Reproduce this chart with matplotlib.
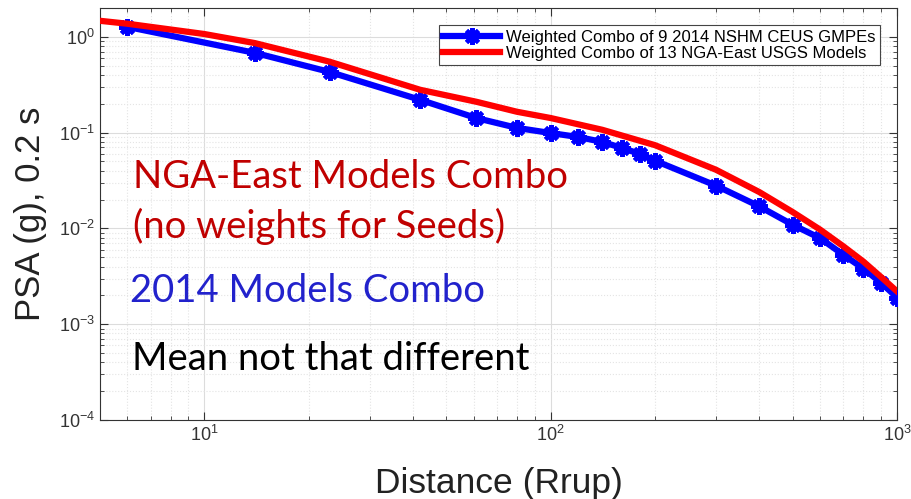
import matplotlib
matplotlib.use("Agg")
import matplotlib.pyplot as plt
from matplotlib.ticker import LogLocator, NullFormatter

# distance (km) and PSA (g)
dist_2014 = [6, 14, 23, 42, 61, 80, 100, 120, 141, 161, 181, 200,
             300, 400, 500, 600, 700, 800, 900, 1000]
psa_2014 = [1.27, 0.68, 0.43, 0.22, 0.142, 0.112, 0.099, 0.090, 0.080,
            0.069, 0.060, 0.051, 0.028, 0.017, 0.0109, 0.0079, 0.0053,
            0.0038, 0.0027, 0.0019]

dist_nga = [5, 6, 10, 14, 23, 42, 61, 80, 100, 141, 200, 300, 400,
            500, 600, 700, 800, 900, 1000]
psa_nga = [1.47, 1.37, 1.07, 0.86, 0.55, 0.28, 0.21, 0.165, 0.142,
           0.107, 0.074, 0.041, 0.024, 0.0148, 0.0097, 0.0065, 0.0045,
           0.0031, 0.0022]

label_2014 = "Weighted Combo of 9 2014 NSHM CEUS GMPEs"
label_nga = "Weighted Combo of 13 NGA-East USGS Models"

plt.rcParams['font.family'] = ['Liberation Sans', 'DejaVu Sans']

fig = plt.figure(figsize=(9.12, 4.99), dpi=100)
ax = fig.add_axes([0.1096, 0.1583, 0.874, 0.8257])

# matlab-ish asterisk markers
ax.plot(dist_2014, psa_2014, color='#0000ff', lw=4.5, marker=(8, 2, 0),
        ms=12, mew=3, label=label_2014, zorder=3)
ax.plot(dist_nga, psa_nga, color='#ff0000', lw=4.5, label=label_nga, zorder=4)

ax.set_xscale('log')
ax.set_yscale('log')
ax.set_xlim(5, 1000)
ax.set_ylim(1e-4, 2)

ax.xaxis.set_minor_locator(LogLocator(base=10, subs=range(2, 10)))
ax.yaxis.set_minor_locator(LogLocator(base=10, subs=range(2, 10)))
ax.xaxis.set_minor_formatter(NullFormatter())
ax.yaxis.set_minor_formatter(NullFormatter())

ax.grid(True, which='major', color='#dcdcdc', lw=0.8, ls='-')
ax.grid(True, which='minor', color='#e4e4e4', lw=0.8, ls=':')
ax.tick_params(which='both', direction='in', top=True, right=True,
               colors='#333333', labelsize=13)
ax.tick_params(which='major', length=6)
ax.tick_params(which='minor', length=3)
for s in ax.spines.values():
    s.set_color('#333333')
    s.set_linewidth(0.8)

ax.set_xlabel("Distance (Rrup)", fontsize=25.5, color='#222222')
ax.set_ylabel("PSA (g), 0.2 s", fontsize=25, color='#222222')
ax.yaxis.set_label_coords(-0.066, 0.5)
ax.xaxis.set_label_coords(0.5, -0.114)

leg = ax.legend(loc='upper right', fontsize=12, handlelength=3.4,
                handletextpad=0.35, fancybox=False, framealpha=1,
                edgecolor='#444444', borderaxespad=1.05, labelspacing=0.1,
                borderpad=0.25)
leg.get_frame().set_linewidth(0.8)

note_font = ['Lato', 'DejaVu Sans']
fig.text(0.146, 0.623, "NGA-East Models Combo", color='#c00000',
         fontsize=27.5, family=note_font, va='baseline')
fig.text(0.146, 0.523, "(no weights for Seeds)", color='#c00000',
         fontsize=27.5, family=note_font, va='baseline')
fig.text(0.143, 0.395, "2014 Models Combo", color='#2222cc',
         fontsize=27.5, family=note_font, va='baseline')
fig.text(0.145, 0.259, "Mean not that different", color='black',
         fontsize=27.5, family=note_font, va='baseline')

fig.savefig("out.png", dpi=100)
